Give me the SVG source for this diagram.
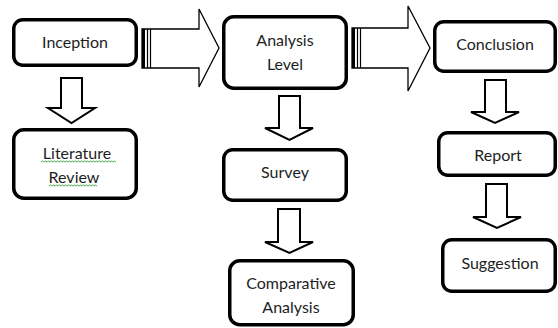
<svg xmlns="http://www.w3.org/2000/svg" width="558" height="328" viewBox="0 0 558 328">
<style>
.box{fill:#fff;stroke:#000;stroke-width:3.5}
.t{font-family:Lato,"Open Sans","Liberation Sans",sans-serif;font-size:16px;fill:#1e1e1e;text-anchor:middle;dominant-baseline:central}
.da{fill:#fff;stroke:#000;stroke-width:2;stroke-linejoin:miter}
.ra{fill:#fff;stroke:#000;stroke-width:1.3}
.sq{stroke:#4caf50;stroke-width:1;fill:none}
</style>
<rect width="558" height="328" fill="#fff"/>
<g id="connectors">
  <g id="arrow-inception-analysis">
    <polygon class="ra" points="142,29 199,29 199,9 219,48 199,87 199,68 142,68"/>
    <rect x="142" y="29" width="3" height="39" fill="#000"/>
    <line x1="147.5" y1="29" x2="147.5" y2="68" stroke="#000" stroke-width="1.2"/>
    <line x1="150.5" y1="29" x2="150.5" y2="68" stroke="#000" stroke-width="1.2"/>
  </g>
  <g id="arrow-analysis-conclusion">
    <polygon class="ra" points="352,28 408,28 408,6 430,48 408,91 408,68 352,68"/>
    <rect x="352" y="28" width="3" height="40" fill="#000"/>
    <line x1="357.5" y1="28" x2="357.5" y2="68" stroke="#000" stroke-width="1.2"/>
    <line x1="360.5" y1="28" x2="360.5" y2="68" stroke="#000" stroke-width="1.2"/>
  </g>
  <polygon id="arrow-inception-literature" class="da" points="61,78 82,78 82,108 95,108 71.5,123 48,108 61,108"/>
  <polygon id="arrow-analysis-survey" class="da" points="279,96 300,96 300,128 313,128 289.5,140 265,128 279,128"/>
  <polygon id="arrow-survey-comparative" class="da" points="278,209 300,209 300,242 313,242 289.5,253 265,242 278,242"/>
  <polygon id="arrow-conclusion-report" class="da" points="485,80 506,80 506,112 519,112 495,123 471,112 485,112"/>
  <polygon id="arrow-report-suggestion" class="da" points="486,184 507,184 507,217 521,217 497,228 473,217 486,217"/>
</g>
<g id="inception">
  <rect class="box" x="13.75" y="19.75" width="122.5" height="45.5" rx="9"/>
  <text class="t" x="75" y="41.5">Inception</text>
</g>
<g id="analysis-level">
  <rect class="box" x="223.75" y="16.75" width="122.5" height="71.5" rx="10"/>
  <text class="t" x="285" y="39.5">Analysis</text>
  <text class="t" x="285" y="63.5">Level</text>
</g>
<g id="conclusion">
  <rect class="box" x="434.75" y="21.75" width="120.5" height="49.5" rx="9"/>
  <text class="t" x="495" y="43.5">Conclusion</text>
</g>
<g id="literature-review">
  <rect class="box" x="13.75" y="129.75" width="122.5" height="68.5" rx="10"/>
  <text class="t" x="77" y="152.5">Literature</text>
  <text class="t" x="74" y="176.5">Review</text>
  <path class="sq" d="M41,162 l1.5,-1 l1.5,1 l1.5,-1 l1.5,1 l1.5,-1 l1.5,1 l1.5,-1 l1.5,1 l1.5,-1 l1.5,1 l1.5,-1 l1.5,1 l1.5,-1 l1.5,1 l1.5,-1 l1.5,1 l1.5,-1 l1.5,1 l1.5,-1 l1.5,1 l1.5,-1 l1.5,1 l1.5,-1 l1.5,1 l1.5,-1 l1.5,1 l1.5,-1 l1.5,1 l1.5,-1 l1.5,1 l1.5,-1 l1.5,1 l1.5,-1 l1.5,1 l1.5,-1 l1.5,1 l1.5,-1 l1.5,1 l1.5,-1 l1.5,1 l1.5,-1 l1.5,1 l1.5,-1 l1.5,1 l1.5,-1 l1.5,1 l1.5,-1 l1.5,1 l1.5,-1 l1.5,1"/>
  <path class="sq" d="M49,186 l1.5,-1 l1.5,1 l1.5,-1 l1.5,1 l1.5,-1 l1.5,1 l1.5,-1 l1.5,1 l1.5,-1 l1.5,1 l1.5,-1 l1.5,1 l1.5,-1 l1.5,1 l1.5,-1 l1.5,1 l1.5,-1 l1.5,1 l1.5,-1 l1.5,1 l1.5,-1 l1.5,1 l1.5,-1 l1.5,1 l1.5,-1 l1.5,1 l1.5,-1 l1.5,1 l1.5,-1 l1.5,1 l1.5,-1 l1.5,1"/>
</g>
<g id="survey">
  <rect class="box" x="223.75" y="149.75" width="122.5" height="50.5" rx="9"/>
  <text class="t" x="285" y="171.5">Survey</text>
</g>
<g id="comparative-analysis">
  <rect class="box" x="229.75" y="260.75" width="123.5" height="64" rx="10"/>
  <text class="t" x="291" y="282.5">Comparative</text>
  <text class="t" x="291" y="306.5">Analysis</text>
</g>
<g id="report">
  <rect class="box" x="438.75" y="132.75" width="116.5" height="42.5" rx="9"/>
  <text class="t" x="498" y="154.5">Report</text>
</g>
<g id="suggestion">
  <rect class="box" x="442.75" y="239.75" width="112.5" height="51.5" rx="9"/>
  <text class="t" x="500" y="262.5">Suggestion</text>
</g>
</svg>
